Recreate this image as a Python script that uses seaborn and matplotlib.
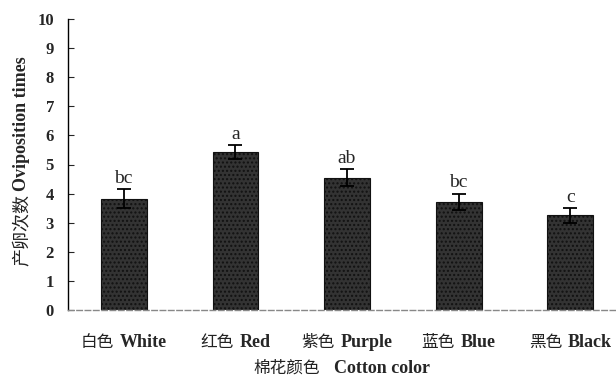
import matplotlib
matplotlib.use("Agg")
import pandas as pd
import matplotlib.pyplot as plt
import seaborn as sns
from matplotlib.offsetbox import TextArea, HPacker, AnnotationBbox

colors_cn = ["白色", "红色", "紫色", "蓝色", "黑色"]
colors_en = ["White", "Red", "Purple", "Blue", "Black"]
times = [3.82, 5.42, 4.55, 3.72, 3.25]
errors = [0.33, 0.24, 0.28, 0.28, 0.25]
letters = ["bc", "a", "ab", "bc", "c"]
yticks = list(range(0, 11))

sns.set_style("white")
plt.rcParams["hatch.color"] = "#9a9a9a"
plt.rcParams["hatch.linewidth"] = 1.0

serif = ["Liberation Serif", "DejaVu Serif"]
cjk = ["Noto Sans CJK SC", "DejaVu Sans"]

df = pd.DataFrame({"color": colors_en, "times": times})

fig = plt.figure(figsize=(6.16, 3.78), dpi=100)
ax = fig.add_axes([68 / 616, (378 - 310) / 378, (616 - 68) / 616, 291 / 378])

sns.barplot(data=df, x="color", y="times", color="#333333", width=0.41,
            saturation=1, edgecolor="#111111", linewidth=0.8, ax=ax)
for p in ax.patches:
    p.set_hatch("....")

ax.errorbar(range(len(times)), times, yerr=errors, fmt="none",
            ecolor="black", elinewidth=1.3, capsize=5, capthick=1.3)

for i, (v, e, s) in enumerate(zip(times, errors, letters)):
    ax.text(i, v + e + 0.08, s, ha="center", va="bottom",
            family=serif, fontsize=14)

ax.set_ylim(0, 10)
ax.set_xlim(-0.5, 4.41)
ax.set_yticks(yticks)
ax.set_yticklabels([str(t) for t in yticks], family=serif,
                   fontweight="bold", fontsize=12)
ax.tick_params(axis="y", direction="in", length=4, width=0.8,
               left=True, pad=10)
ax.tick_params(axis="x", bottom=False, labelbottom=False)

sns.despine(ax=ax)
ax.spines["left"].set_color("black")
ax.spines["left"].set_linewidth(1.0)
ax.spines["bottom"].set_color("#888888")
ax.spines["bottom"].set_linestyle((0, (4, 2)))
ax.spines["bottom"].set_linewidth(1.0)
ax.set_xlabel("")
ax.set_ylabel("")

# x tick labels: Chinese (normal) + English (bold)
for i, (cn, en) in enumerate(zip(colors_cn, colors_en)):
    box = HPacker(children=[
        TextArea(cn, textprops=dict(family=cjk, fontsize=12, color="#222222")),
        TextArea(en, textprops=dict(family=serif, fontsize=13, fontweight="bold")),
    ], align="baseline", pad=0, sep=4)
    ab = AnnotationBbox(box, (i, 0), xycoords=("data", "axes fraction"),
                        xybox=(0, -17), boxcoords="offset points",
                        box_alignment=(0.5, 1), frameon=False,
                        annotation_clip=False)
    ax.add_artist(ab)

# x axis title
xbox = HPacker(children=[
    TextArea("棉花颜色", textprops=dict(family=cjk, fontsize=12, color="#222222")),
    TextArea("Cotton color", textprops=dict(family=serif, fontsize=13, fontweight="bold")),
], align="baseline", pad=0, sep=10)
ax.add_artist(AnnotationBbox(xbox, (0.5, 0), xycoords="axes fraction",
                             xybox=(0, -36), boxcoords="offset points",
                             box_alignment=(0.5, 1), frameon=False,
                             annotation_clip=False))

# y axis title (rotated, split in two parts)
ax.text(-0.084, 0.40, "产卵次数", rotation=90, ha="center", va="top",
        family=cjk, fontsize=13, color="#222222", transform=ax.transAxes)
ax.text(-0.084, 0.41, "Oviposition times", rotation=90, ha="center",
        va="bottom", family=serif, fontsize=13, fontweight="bold",
        transform=ax.transAxes)

fig.savefig("out.png", dpi=100)
